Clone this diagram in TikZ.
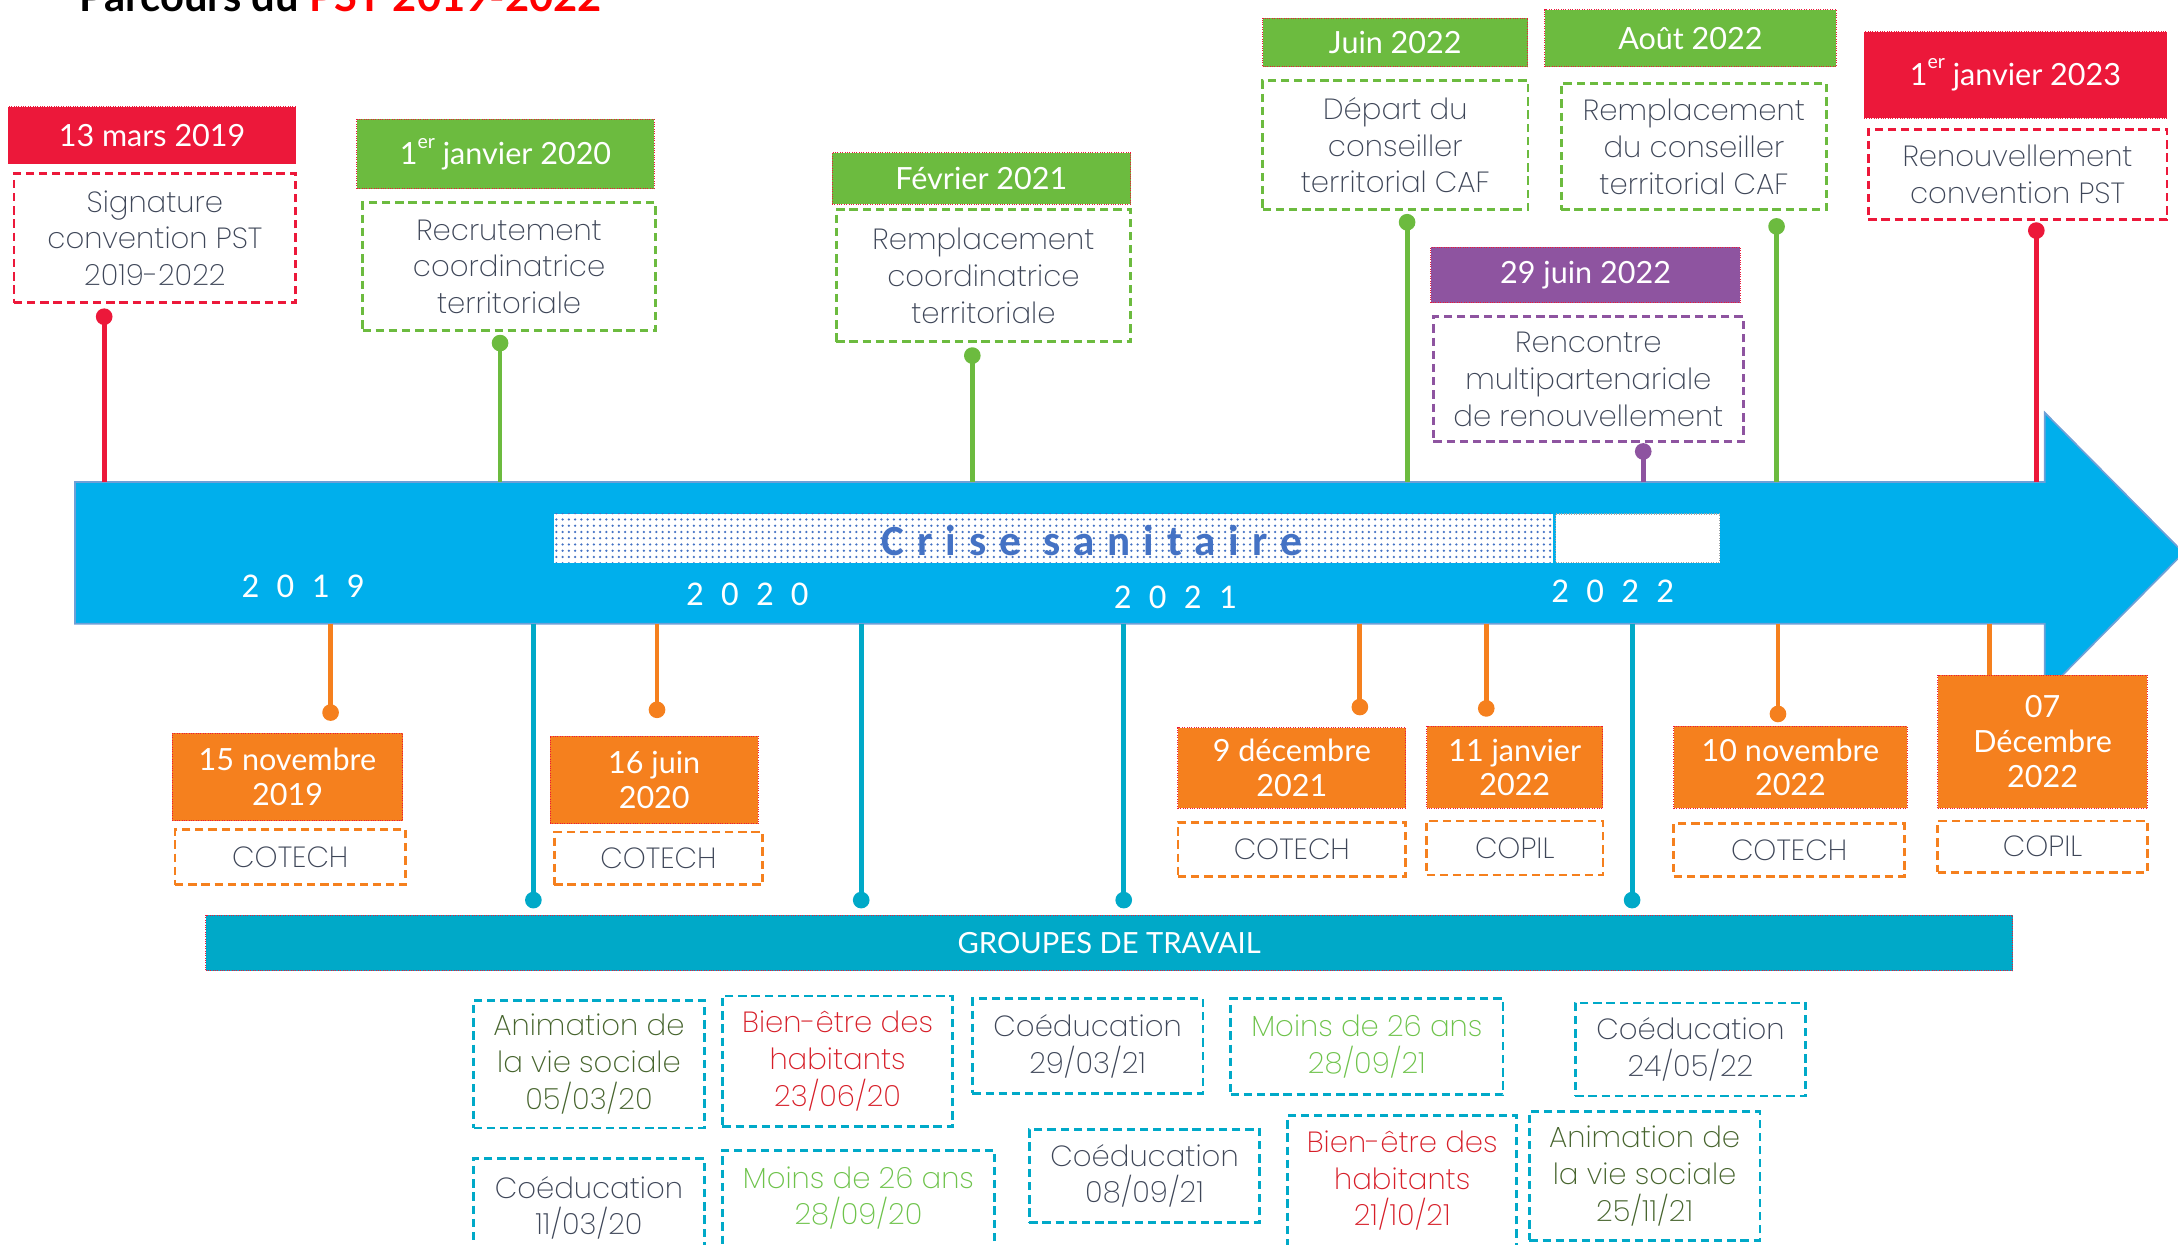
\documentclass[tikz,border=0pt]{standalone}
\usepackage{fontspec}
\setmainfont{Lato}
\newfontfamily\datef{Lato}
\newfontfamily\lightf{Poppins ExtraLight}
\newfontfamily\carl{Carlito}
\newfontfamily\crisef{Carlito}[LetterSpace=30]
\usetikzlibrary{patterns.meta}
\definecolor{hred}{RGB}{236,24,58}
\definecolor{titlered}{RGB}{255,0,0}
\definecolor{hgreen}{RGB}{108,187,63}
\definecolor{hpurple}{RGB}{142,84,160}
\definecolor{horange}{RGB}{245,128,30}
\definecolor{arrowblue}{RGB}{0,175,236}
\definecolor{edgeblue}{RGB}{110,160,215}
\definecolor{tealc}{RGB}{0,169,200}
\definecolor{txtgray}{RGB}{62,70,88}
\definecolor{criseblue}{RGB}{68,114,196}
\definecolor{olive}{RGB}{70,100,45}
\definecolor{gred}{RGB}{215,30,40}
\definecolor{lgreen}{RGB}{110,195,75}
\begin{document}
\begin{tikzpicture}[x=1pt,y=-1pt,
  hdr/.style={fill=#1, draw=hred, densely dotted, line width=0.7pt, text=white, font=\datef\fontsize{22}{25}\selectfont, align=center, inner sep=0pt},
  dbox/.style={draw=#1, dash pattern=on 6pt off 3.5pt, line width=2pt, fill=white, text=txtgray, font=\lightf\fontsize{21}{26.5}\selectfont, align=center, inner sep=0pt},
  gbox/.style={dbox=tealc, text=#1},
  stem/.style={draw=#1, line width=3.5pt},
  pin/.style={circle, fill=#1, inner sep=0pt, minimum size=12pt},
  year/.style={text=white, font=\carl\fontsize{25}{26}\selectfont, inner sep=0pt},
]
\useasboundingbox (0,0) rectangle (1568,896);

% title (cut by the top edge)
\node[anchor=base west, inner sep=0pt, font=\bfseries\fontsize{30}{32}\selectfont] (title) at (57,8) {Parcours du \textcolor{titlered}{PST 2019-2022}};

% main arrow
\path[fill=arrowblue, draw=edgeblue, line width=1.2pt] (54,347) -- (1472,347) -- (1472,297) -- (1572,398) -- (1472,499) -- (1472,449) -- (54,449) -- cycle;

% crise sanitaire
\node[fill=white, inner sep=0pt, minimum width=719, minimum height=35] (crise) at (758.5,387.5) {};
\fill[pattern={Dots[distance=4.5pt, radius=0.9pt]}, pattern color=criseblue] (crise.south west) rectangle (crise.north east);
\node[text=criseblue, inner sep=0pt, font=\crisef\bfseries\fontsize{31}{32}\selectfont] (crisetxt) at (786,389) {Crise sanitaire};
\node[fill=white, draw=gray!70, densely dotted, line width=0.8pt, inner sep=0pt, minimum width=118, minimum height=35] (crise2) at (1179,387.5) {};

% years
\node[year] (y19) at (218,422) {2\hspace{12.5pt}0\hspace{12.5pt}1\hspace{12.5pt}9};
\node[year] (y20) at (538,428) {2\hspace{12.5pt}0\hspace{12.5pt}2\hspace{12.5pt}0};
\node[year] (y21) at (846,430) {2\hspace{12.5pt}0\hspace{12.5pt}2\hspace{12.5pt}1};
\node[year] (y22) at (1161,426) {2\hspace{12.5pt}0\hspace{12.5pt}2\hspace{12.5pt}2};

% ---------- top events ----------
\node[hdr=hred, minimum width=207, minimum height=41] (hA) at (109.5,97.5) {13 mars 2019};
\node[dbox=hred, minimum width=203, minimum height=93] (bA) at (111.5,171.5) {Signature\\convention PST\\2019-2022};
\node[pin=hred] (dA) at (75,228) {};
\coordinate (tA) at (75,347);
\draw[stem=hred] (dA.center) -- (tA);

\node[hdr=hgreen, minimum width=214, minimum height=50] (hB) at (364,111) {1\raisebox{0.55em}{\fontsize{14}{14}\selectfont er} janvier 2020};
\node[dbox=hgreen, minimum width=211, minimum height=92] (bB) at (366.5,192) {Recrutement\\coordinatrice\\territoriale};
\node[pin=hgreen] (dB) at (360,247) {};
\coordinate (tB) at (360,347);
\draw[stem=hgreen] (dB.center) -- (tB);

\node[hdr=hgreen, minimum width=215, minimum height=37] (hC) at (706.5,128.5) {Février 2021};
\node[dbox=hgreen, minimum width=212, minimum height=95] (bC) at (708,198.5) {Remplacement\\coordinatrice\\territoriale};
\node[pin=hgreen] (dC) at (700,256) {};
\coordinate (tC) at (700,347);
\draw[stem=hgreen] (dC.center) -- (tC);

\node[hdr=hgreen, minimum width=191, minimum height=35] (hD) at (1004.5,30.5) {Juin 2022};
\node[dbox=hgreen, minimum width=191, minimum height=93] (bD) at (1004.5,104.5) {Départ du\\conseiller\\territorial CAF};
\node[pin=hgreen] (dD) at (1013,160) {};
\coordinate (tD) at (1013,347);
\draw[stem=hgreen] (dD.center) -- (tD);

\node[hdr=hgreen, minimum width=210, minimum height=41] (hE) at (1217,27.5) {Août 2022};
\node[dbox=hgreen, minimum width=191, minimum height=91] (bE) at (1219.5,105.5) {Remplacement\\du conseiller\\territorial CAF};
\node[pin=hgreen] (dE) at (1279,163) {};
\coordinate (tE) at (1279,347);
\draw[stem=hgreen] (dE.center) -- (tE);

\node[hdr=hpurple, minimum width=223, minimum height=40] (hF) at (1141.5,198) {29 juin 2022};
\node[dbox=hpurple, minimum width=223, minimum height=90] (bF) at (1143.5,273) {Rencontre\\multipartenariale\\de renouvellement};
\node[pin=hpurple] (dF) at (1183,325) {};
\coordinate (tF) at (1183,347);
\draw[stem=hpurple] (dF.center) -- (tF);

\node[hdr=hred, minimum width=218, minimum height=62] (hG) at (1451,54) {\raisebox{4pt}{1\raisebox{0.55em}{\fontsize{14}{14}\selectfont er} janvier 2023}};
\node[dbox=hred, minimum width=215, minimum height=65] (bG) at (1452.5,125.5) {Renouvellement\\convention PST};
\node[pin=hred] (dG) at (1466,166) {};
\coordinate (tG) at (1466,347);
\draw[stem=hred] (dG.center) -- (tG);

% ---------- bottom events ----------
\node[hdr=horange, minimum width=166, minimum height=63] (oA) at (207,559.5) {15 novembre\\2019};
\node[dbox=horange, minimum width=166, minimum height=40] (cA) at (209,617) {COTECH};
\coordinate (sA) at (238,449);
\node[pin=horange] (pA) at (238,513) {};
\draw[stem=horange] (sA) -- (pA.center);

\node[hdr=horange, minimum width=150, minimum height=63] (oB) at (471,561.5) {16 juin\\2020};
\node[dbox=horange, minimum width=150, minimum height=38] (cB) at (474,618) {COTECH};
\coordinate (sB) at (473,449);
\node[pin=horange] (pB) at (473,511) {};
\draw[stem=horange] (sB) -- (pB.center);

\node[hdr=horange, minimum width=164, minimum height=58] (oC) at (930,553) {9 décembre\\2021};
\node[dbox=horange, minimum width=164, minimum height=39] (cC) at (930,611.5) {COTECH};
\coordinate (sC) at (979,449);
\node[pin=horange] (pC) at (979,509) {};
\draw[stem=horange] (sC) -- (pC.center);

\node[hdr=horange, minimum width=127, minimum height=59] (oD) at (1090.5,552.5) {11 janvier\\2022};
\node[dbox=horange, minimum width=127, minimum height=39] (cD) at (1090.5,610.5) {COPIL};
\coordinate (sD) at (1070,449);
\node[pin=horange] (pD) at (1070,510) {};
\draw[stem=horange] (sD) -- (pD.center);

\node[hdr=horange, minimum width=168, minimum height=59] (oE) at (1289,552.5) {10 novembre\\2022};
\node[dbox=horange, minimum width=166, minimum height=38] (cE) at (1288,612) {COTECH};
\coordinate (sE) at (1280,449);
\node[pin=horange] (pE) at (1280,514) {};
\draw[stem=horange] (sE) -- (pE.center);

\coordinate (sF) at (1432,449);
\draw[stem=horange] (sF) -- (1432,487);
\node[hdr=horange, minimum width=151, minimum height=96] (oF) at (1470.5,534) {07\\Décembre\\2022};
\node[dbox=horange, minimum width=151, minimum height=37] (cF) at (1470.5,609.5) {COPIL};

% ---------- groupes de travail ----------
\node[fill=tealc, draw=hred, densely dotted, line width=0.7pt, inner sep=0pt, minimum width=1301, minimum height=40, text=white, font=\datef\fontsize{21}{22}\selectfont] (gt) at (798.5,679) {GROUPES DE TRAVAIL};
\foreach \n/\x in {1/384, 2/620, 3/809, 4/1175}{
  \coordinate (w\n) at (\x,449);
  \node[pin=tealc] (q\n) at (\x,648) {};
  \draw[stem=tealc] (w\n) -- (q\n.center);
}

\node[gbox=olive, minimum width=166, minimum height=92] (g1) at (424,766) {Animation de\\la vie sociale\\05/03/20};
\node[gbox=gred, minimum width=166, minimum height=94] (g2) at (603,764) {Bien-être des\\habitants\\23/06/20};
\node[gbox=txtgray, minimum width=166, minimum height=68] (g3) at (783,753) {Coéducation\\29/03/21};
\node[gbox=lgreen, minimum width=196, minimum height=69] (g4) at (984,753.5) {Moins de 26 ans\\28/09/21};
\node[gbox=txtgray, minimum width=166, minimum height=67] (g5) at (1217,755.5) {Coéducation\\24/05/22};
\node[gbox=txtgray, minimum width=166, minimum height=71] (g6) at (424,869.5) {Coéducation\\11/03/20};
\node[gbox=lgreen, minimum width=196, minimum height=69] (g7) at (618,862.5) {Moins de 26 ans\\28/09/20};
\node[gbox=txtgray, minimum width=166, minimum height=67] (g8) at (824,846.5) {Coéducation\\08/09/21};
\node[gbox=gred, minimum width=165, minimum height=94] (g9) at (1009.5,850) {Bien-être des\\habitants\\21/10/21};
\node[gbox=olive, minimum width=166, minimum height=93] (g10) at (1184,846.5) {Animation de\\la vie sociale\\25/11/21};
\end{tikzpicture}
\end{document}
